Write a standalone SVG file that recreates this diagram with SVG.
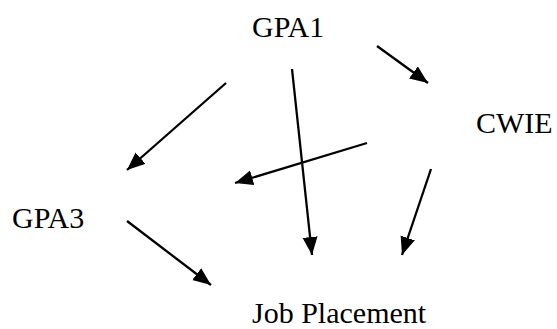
<svg xmlns="http://www.w3.org/2000/svg" width="557" height="329" viewBox="0 0 557 329">
<style>
.lbl{font-family:"Liberation Serif","Times New Roman",serif;font-size:30px;fill:#000}
.edge{stroke:#000;stroke-width:2.3;fill:none;marker-end:url(#ah)}
</style>
<defs>
<marker id="ah" markerUnits="userSpaceOnUse" markerWidth="20" markerHeight="16" refX="18" refY="7.5" orient="auto">
<path d="M0,0 L18,7.5 L0,15 Z" fill="#000"/>
</marker>
</defs>
<rect width="557" height="329" fill="#fff"/>
<g id="connectors">
<line class="edge" x1="377" y1="46" x2="428" y2="83"/>
<line class="edge" x1="226" y1="83" x2="127" y2="170"/>
<line class="edge" x1="292" y1="69" x2="312" y2="255"/>
<line class="edge" x1="367" y1="143" x2="235" y2="183"/>
<line class="edge" x1="431" y1="169" x2="402" y2="255"/>
<line class="edge" x1="127" y1="221" x2="211" y2="285"/>
</g>
<g id="gpa1"><text class="lbl" x="252" y="37">GPA1</text></g>
<g id="cwie"><text class="lbl" x="476" y="133">CWIE</text></g>
<g id="gpa3"><text class="lbl" x="12" y="228">GPA3</text></g>
<g id="job"><text class="lbl" x="252" y="323">Job Placement</text></g>
</svg>
